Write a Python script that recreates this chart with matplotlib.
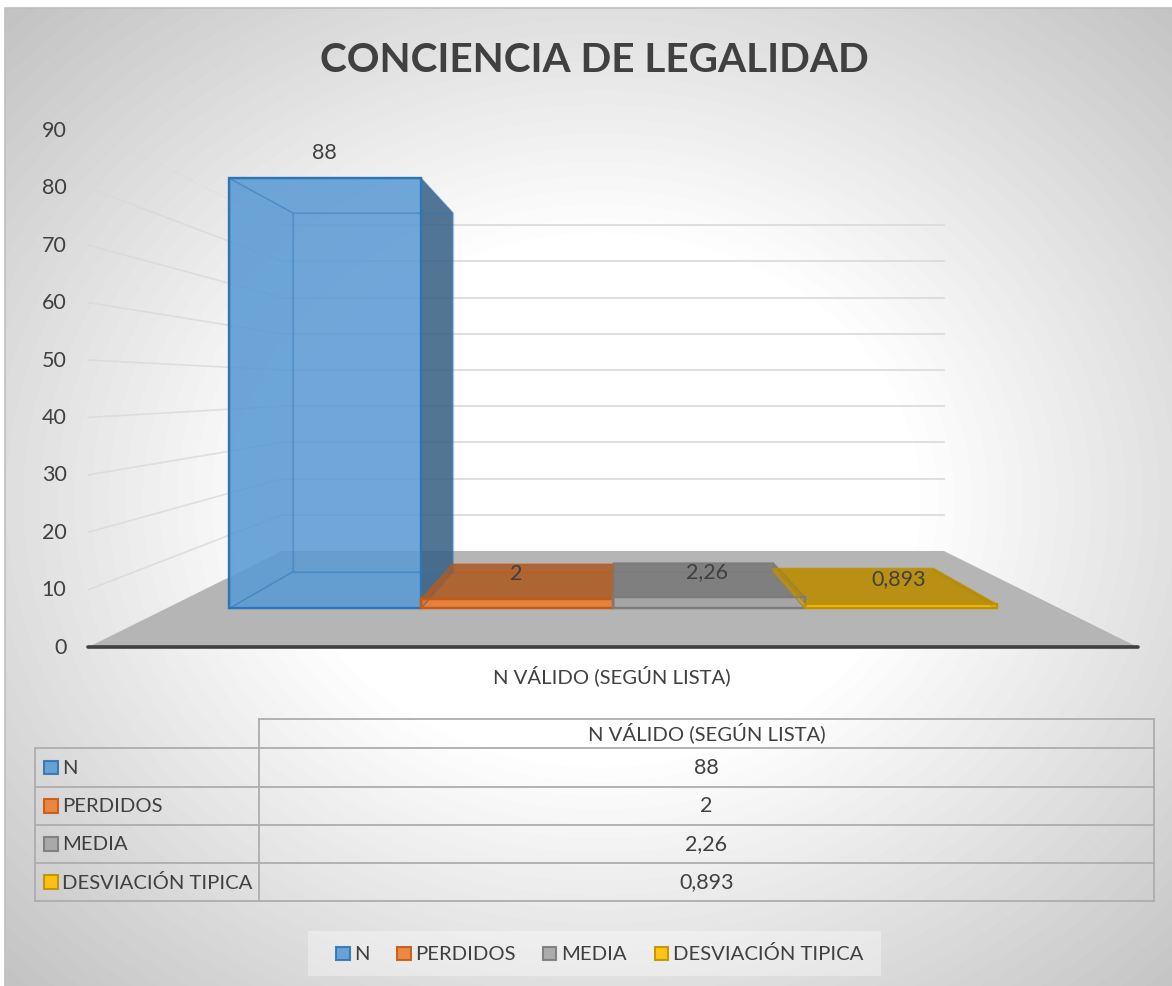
import numpy as np
import matplotlib
matplotlib.use('Agg')
import matplotlib.pyplot as plt
from matplotlib.patches import Polygon, Rectangle

plt.rcParams['font.family'] = ['Lato', 'DejaVu Sans']

title = 'CONCIENCIA DE LEGALIDAD'
category = 'N VÁLIDO (SEGÚN LISTA)'
series = ['N', 'PERDIDOS', 'MEDIA', 'DESVIACIÓN TIPICA']
values = [88, 2, 2.26, 0.893]
value_labels = ['88', '2', '2,26', '0,893']
ticks = [0, 10, 20, 30, 40, 50, 60, 70, 80, 90]

fills = ['#5B9BD5', '#ED7D31', '#A5A5A5', '#FFC000']
edges = ['#2E75B6', '#C55A11', '#7B7B7B', '#BF9000']
text_col = '#404040'
fs = 15.5     # numbers
fs_caps = 14.6

# perspective: each depth is a scale in px per unit, everything shrinks to a vanishing point
CX, CY, EYE = 613, 387, 45.3
S_FRONT, S_BAR_F, S_BAR_B, S_BACK = 5.74, 4.886, 4.08, 3.62
BAR_W = 39.25
FLOOR_W = 91.4

def project(xw, v, s):
    return CX + xw * s, CY + (EYE - v) * s

def shade(col, k):
    r, g, b = matplotlib.colors.to_rgb(col)
    return (r * k, g * k, b * k)

fig = plt.figure(figsize=(11.72, 9.87), dpi=100)
ax = fig.add_axes([0, 0, 1, 1])
ax.axis('off')

# background gradient of the chart area
yy, xx = np.mgrid[8:987, 5:1172]
t = np.sqrt(((xx - 600) / 600.0) ** 2 + ((yy - 500) / 500.0) ** 2)
bg = 255 - np.clip(70 * (t - 0.52), 0, None)
ax.imshow(bg, cmap='gray', vmin=0, vmax=255, extent=(5, 1172, 987, 8), aspect='auto', zorder=0)
ax.set_xlim(0, 1172)
ax.set_ylim(986, -1)
ax.plot([5, 5, 1172], [987, 7.5, 7.5], color='#BFBFBF', lw=1.2, zorder=1)

# gridlines on side wall and back wall
for v in ticks:
    p0 = project(-FLOOR_W, v, S_FRONT)
    p1 = project(-FLOOR_W, v, S_BACK)
    p2 = project(FLOOR_W, v, S_BACK)
    if v > 0:
        a = 0.25 if v == 90 else 0.8
        ax.plot([p0[0], p1[0]], [p0[1], p1[1]], color='#D9D9D9', lw=1.2, alpha=a, zorder=1)
        ax.plot([p1[0], p2[0]], [p1[1], p2[1]], color='#D9D9D9', lw=1.2, zorder=1)
    ax.text(66.5, p0[1] - 0.5, str(v), ha='right', va='center', fontsize=fs, color=text_col)

# floor
floor = [project(-FLOOR_W, 0, S_FRONT), project(FLOOR_W, 0, S_FRONT),
         project(FLOOR_W, 0, S_BACK), project(-FLOOR_W, 0, S_BACK)]
ax.add_patch(Polygon(floor, closed=True, fc='#B5B5B5', ec='none', zorder=2))
ax.plot([floor[0][0], floor[1][0]], [floor[0][1], floor[1][1]], color=text_col, lw=2.6,
        solid_capstyle='round', zorder=6)

# bars
for i, v in enumerate(values):
    x0 = BAR_W * (i - 2)
    x1 = x0 + BAR_W
    fbl = project(x0, 0, S_BAR_F)
    fbr = project(x1, 0, S_BAR_F)
    ftl = project(x0, v, S_BAR_F)
    ftr = project(x1, v, S_BAR_F)
    bbl = project(x0, 0, S_BAR_B)
    bbr = project(x1, 0, S_BAR_B)
    btl = project(x0, v, S_BAR_B)
    btr = project(x1, v, S_BAR_B)
    short = v < 10
    faces = [
        ([bbl, bbr, btr, btl], fills[i], 0.15),
        ([fbl, fbr, bbr, bbl], shade(fills[i], 0.9), 0.25),
        ([fbl, bbl, btl, ftl], shade(fills[i], 0.9), 0.25),
        ([fbr, bbr, btr, ftr], shade(fills[i], 0.62), 0.4 if short else 0.85),
        ([ftl, ftr, btr, btl], shade(fills[i], 0.72), 0.85 if short else 0.1),
        ([fbl, fbr, ftr, ftl], fills[i], 0.85),
    ]
    for pts, col, al in faces:
        ax.add_patch(Polygon(pts, closed=True, fc=col, ec='none', alpha=al, zorder=3))
        ax.add_patch(Polygon(pts, closed=True, fill=False, ec=edges[i], lw=1.0, alpha=0.3, zorder=4))
    ax.add_patch(Polygon([fbl, fbr, ftr, ftl], closed=True, fill=False, ec=edges[i], lw=1.7,
                         joinstyle='miter', zorder=4))
    ax.text(611.5 + (i - 1.5) * BAR_W * 4.87, ftl[1] - 26, value_labels[i], ha='center', va='center',
            fontsize=fs, color=text_col, zorder=7)

# title and category label
ax.text(594, 60, title, ha='center', va='center', fontsize=29.2, fontweight='bold', color=text_col)
ax.text(612, 675, category, ha='center', va='center', fontsize=fs_caps, color=text_col)

# data table
row_y = [748, 787, 825, 863, 901]
col_x = [35, 259, 1154]
line = dict(color='#ADADAD', lw=1.3, zorder=2, solid_capstyle='projecting')
ax.plot([col_x[1], col_x[2]], [719, 719], **line)
ax.plot([col_x[1], col_x[1]], [719, row_y[-1]], **line)
ax.plot([col_x[2], col_x[2]], [719, row_y[-1]], **line)
ax.plot([col_x[0], col_x[0]], [row_y[0], row_y[-1]], **line)
for y in row_y:
    ax.plot([col_x[0], col_x[2]], [y, y], **line)
ax.text((col_x[1] + col_x[2]) / 2, 732, category, ha='center', va='center', fontsize=fs_caps, color=text_col)
for i, s in enumerate(series):
    yc = (row_y[i] + row_y[i + 1]) / 2
    ax.add_patch(Rectangle((44, yc - 7), 13.5, 13.5, fc=fills[i], ec=edges[i], lw=1.5, alpha=0.9, zorder=3))
    ax.text(62.5, yc, s, ha='left', va='center', fontsize=fs_caps, color=text_col)
    ax.text((col_x[1] + col_x[2]) / 2, yc - 0.5, value_labels[i], ha='center', va='center', fontsize=fs, color=text_col)

# legend
ax.add_patch(Rectangle((308, 931), 573, 45, fc='white', ec='none', alpha=0.35, zorder=2))
legend_x = [336, 397, 542.5, 654.5]
for i, s in enumerate(series):
    ax.add_patch(Rectangle((legend_x[i], 946.5), 13.5, 13.5, fc=fills[i], ec=edges[i], lw=1.5, alpha=0.9, zorder=3))
    ax.text(legend_x[i] + 18.5, 953.5, s, ha='left', va='center', fontsize=fs_caps, color=text_col)

fig.savefig('out.png', dpi=100, facecolor='white')
